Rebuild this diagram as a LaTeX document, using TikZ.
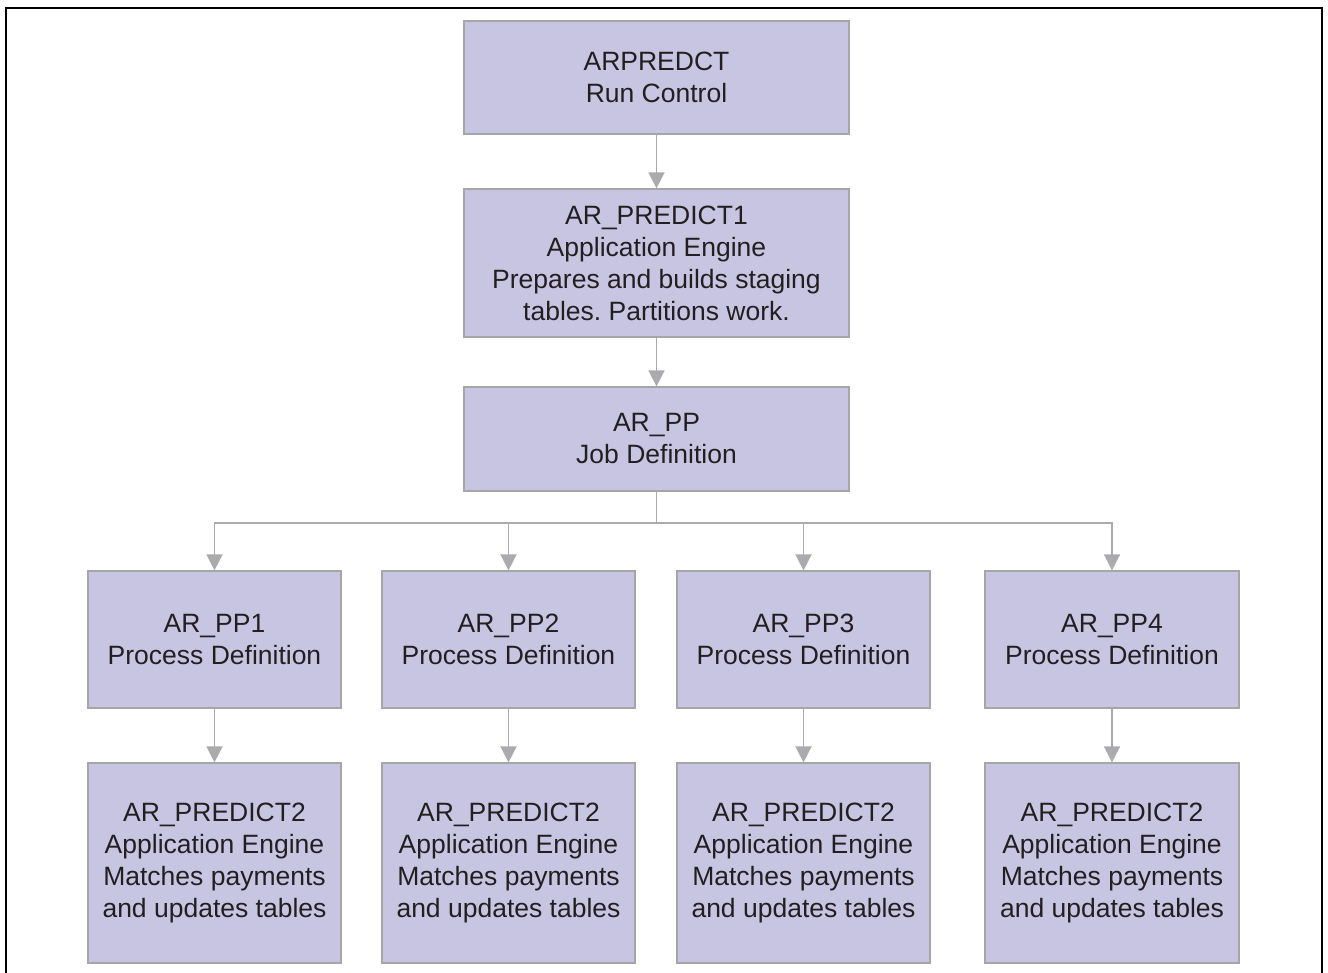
\documentclass[tikz,border=0pt]{standalone}
\usepackage{fontspec}
\setmainfont{Liberation Sans}
\usetikzlibrary{arrows.meta,positioning}
\definecolor{boxfill}{HTML}{C7C5E2}
\definecolor{boxline}{HTML}{A6A6A8}
\definecolor{arrowc}{HTML}{ABABAF}
\definecolor{txt}{HTML}{231F20}
\tikzset{
  box/.style={draw=boxline,fill=boxfill,line width=1.2pt,inner sep=0pt,
    text=txt,align=center,font=\fontsize{26.5}{32}\selectfont\frenchspacing},
  conn/.style={draw=arrowc,line width=1.5pt},
  arr/.style={conn,-{Triangle[width=16pt,length=16pt]}},
}
\begin{document}
\begin{tikzpicture}[x=1pt,y=-1pt]
\useasboundingbox (0,0) rectangle (1328,972);
\fill[white] (0,0) rectangle (1328,972);
\draw[line width=2pt,black] (6,980) -- (6,8) -- (1322,8) -- (1322,980);
% top row
\node[box,minimum width=385pt,minimum height=113pt] (rc) at (656.5,77.5) {ARPREDCT\\Run Control};
\node[box,minimum width=385pt,minimum height=148pt] (ae1) at (656.5,263) {AR\_PREDICT1\\Application Engine\\Prepares and builds staging\\tables. Partitions work.};
\node[box,minimum width=385pt,minimum height=104pt] (job) at (656.5,439) {AR\_PP\\Job Definition};
% process definitions
\foreach \i/\cx/\w in {1/214.5/253,2/508.5/253,3/803.5/253,4/1112/254}{
  \node[box,minimum width=\w pt,minimum height=137pt] (p\i) at (\cx,639.5) {AR\_PP\i\\Process Definition};
  \node[box,minimum width=\w pt,minimum height=200pt] (e\i) at (\cx,863) {AR\_PREDICT2\\Application Engine\\Matches payments\\and updates tables};
}
\coordinate (bus) at (656.5,523);
\draw[arr] (rc.south) -- (ae1.north);
\draw[arr] (ae1.south) -- (job.north);
\draw[conn] (job.south) -- (bus);
\foreach \i in {1,2,3,4}{
  \draw[arr] (bus) -| (p\i.north);
  \draw[arr] (p\i.south) -- (e\i.north);
}
\end{tikzpicture}
\end{document}
